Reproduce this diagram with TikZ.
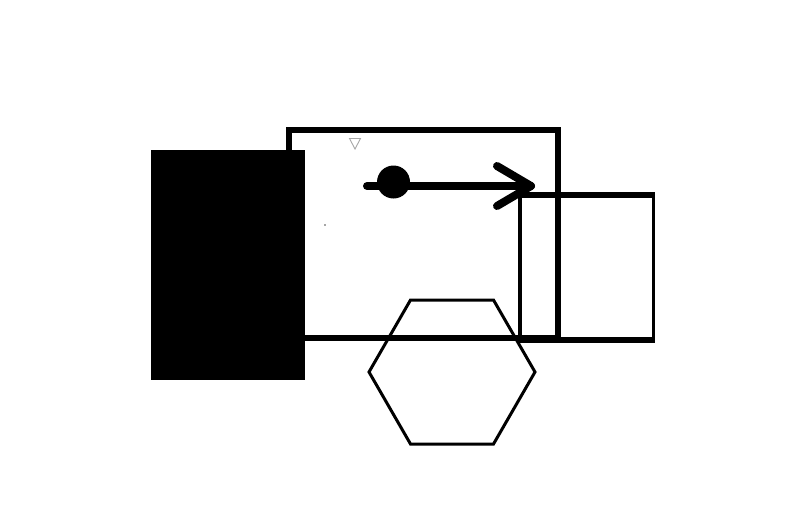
\documentclass[tikz,border=0pt]{standalone}
\begin{document}
\begin{tikzpicture}[x=1pt,y=-1pt,
  thickline/.style={draw=black,line width=6pt},
  thinline/.style={draw=black,line width=3.3pt},
  arrowline/.style={draw=black,line width=8pt,line cap=round,line join=round}]
\useasboundingbox[fill=white] (0,0) rectangle (800,520);
% big outlined rectangle
\draw[thickline] (288.5,129.5) rectangle (557.5,338);
% black filled block
\fill[black] (150.5,150) rectangle (304.5,380);
% right rectangle
\draw[thinline] (520,195.3) rectangle (653.3,340.3);
\draw[line width=6pt] (518.3,195.3) -- (655,195.3);
\draw[line width=6pt] (518.3,340.3) -- (655,340.3);
% hexagon
\draw[line width=3pt] (410.5,300) -- (493.5,300) -- (535,372) -- (493.5,444) -- (410.5,444) -- (369,372) -- cycle;
% arrow
\coordinate (s) at (367,186);
\coordinate (t) at (531,186);
\coordinate (u) at (497,166);
\coordinate (l) at (497,206);
\draw[arrowline] (s) -- (t);
\draw[arrowline] (u) -- (t) -- (l);
\fill[black] (393.5,182) circle (16.5);
% small triangle
\draw[gray!70,line width=0.9pt,line join=miter] (349.5,138.5) -- (360.5,138.5) -- (355,149) -- cycle;
% tiny dot
\fill[black!70] (325,225) circle (0.8);
\end{tikzpicture}
\end{document}
